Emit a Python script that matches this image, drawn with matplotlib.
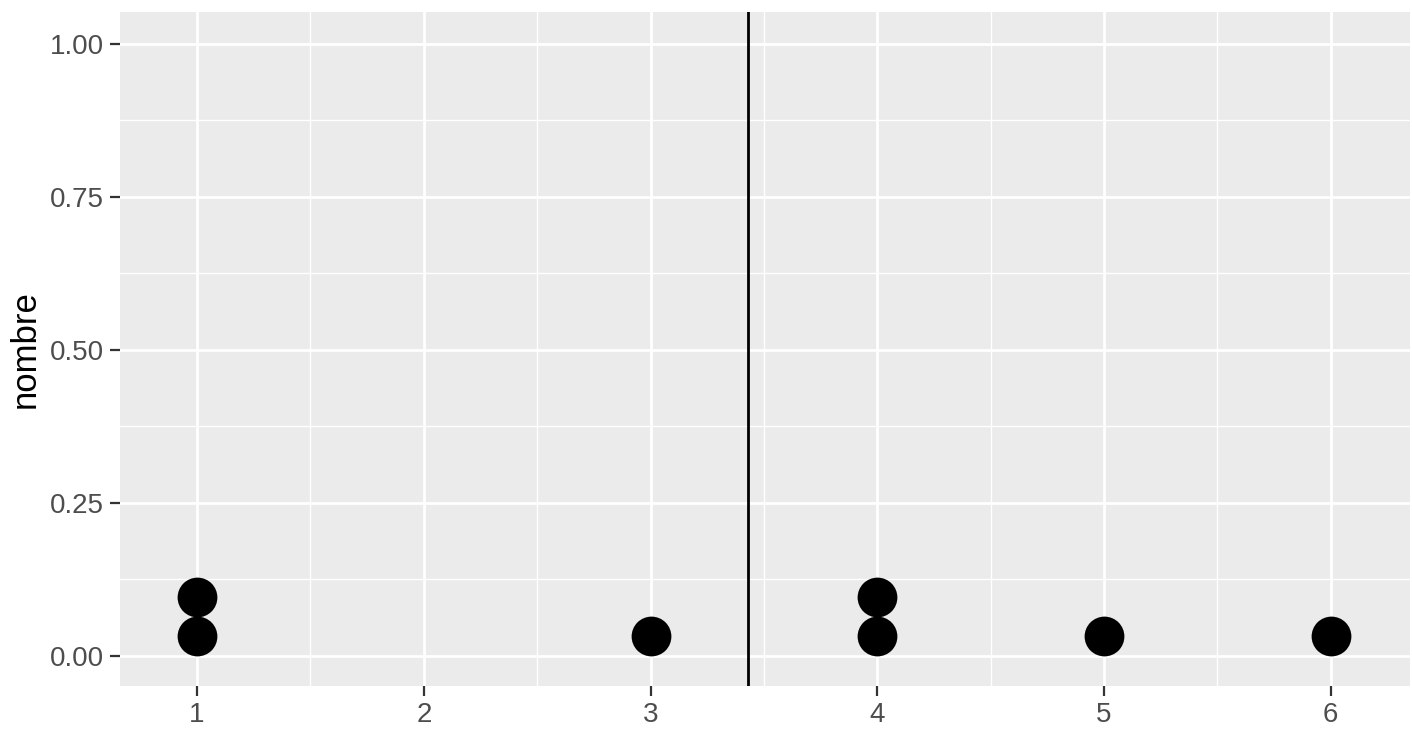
import numpy as np
import matplotlib.pyplot as plt
from matplotlib.ticker import MultipleLocator

# observed values and how many times each appears
valeurs = [1, 3, 4, 5, 6]
effectifs = [2, 1, 2, 1, 1]
dot_height = 0.064  # stack step of geom_dotplot

y_ticks = [0.00, 0.25, 0.50, 0.75, 1.00]
y_labels = ['0.00', '0.25', '0.50', '0.75', '1.00']
x_ticks = [1, 2, 3, 4, 5, 6]

plt.rcParams['font.family'] = ['Liberation Sans', 'DejaVu Sans']

xs, ys = [], []
for v, n in zip(valeurs, effectifs):
    for k in range(n):
        xs.append(v)
        ys.append((k + 0.5) * dot_height)
moyenne = np.repeat(valeurs, effectifs).mean()

fig = plt.figure(figsize=(14.12, 7.36), dpi=100)
ax = fig.add_axes([0.085, 0.068, 0.9136, 0.9157])
ax.set_facecolor('#EBEBEB')

ax.set_xlim(0.66, 6.35)
ax.set_ylim(-0.049, 1.052)
ax.set_xticks(x_ticks)
ax.set_yticks(y_ticks)
ax.set_yticklabels(y_labels)
ax.xaxis.set_minor_locator(MultipleLocator(0.5))
ax.yaxis.set_minor_locator(MultipleLocator(0.125))

ax.grid(which='major', color='white', linewidth=2.0)
ax.grid(which='minor', color='white', linewidth=1.0)
ax.set_axisbelow(True)
for s in ax.spines.values():
    s.set_visible(False)

ax.tick_params(which='major', length=7, width=1.6, color='#333333',
               labelsize=20, labelcolor='#4D4D4D', pad=4.5)
ax.tick_params(which='minor', length=0)

ax.scatter(xs, ys, s=820, color='black', zorder=3, linewidths=0)
ax.axvline(moyenne, color='black', linewidth=2, zorder=4)

ax.set_ylabel('nombre', fontsize=25, labelpad=6)

fig.savefig('out.png', dpi=100)
